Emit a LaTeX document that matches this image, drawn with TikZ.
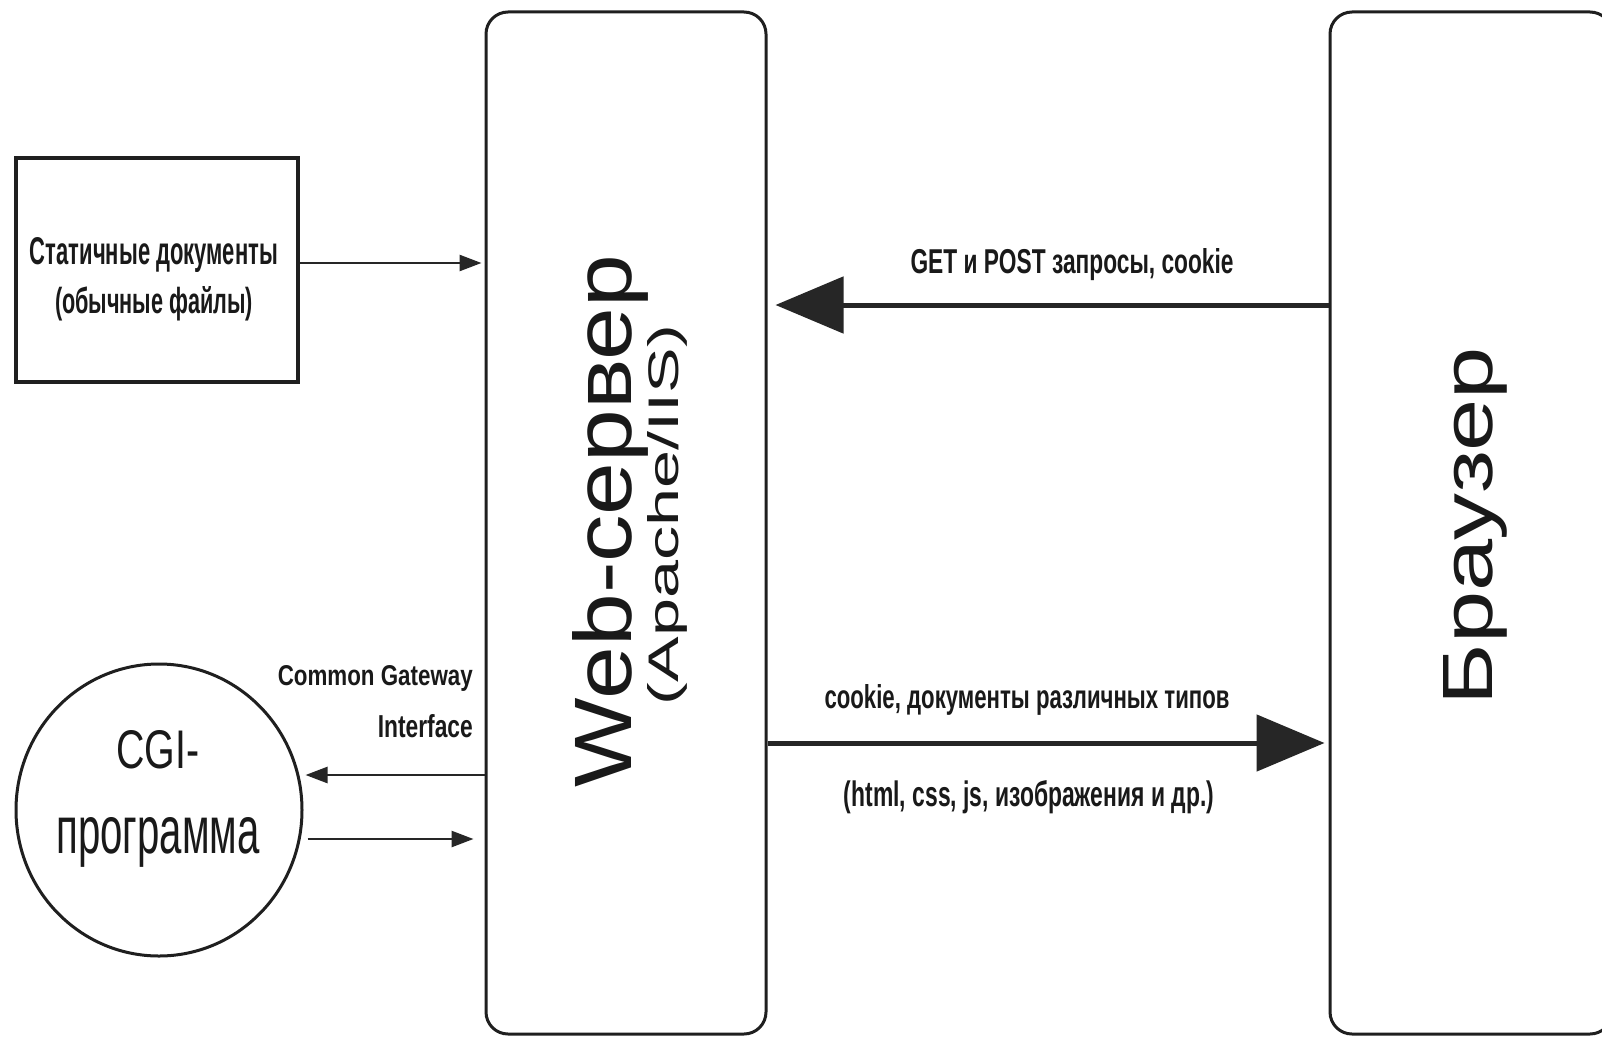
\documentclass[tikz,border=0pt]{standalone}
\usepackage{fontspec}
\setmainfont{Liberation Sans}
\usetikzlibrary{arrows.meta,shapes.geometric}
\newcommand{\fitt}[3]{\resizebox{#1pt}{#2pt}{#3}}
\begin{document}
\begin{tikzpicture}[x=1pt,y=-1pt,
  box/.style={draw=black!88, line width=3pt, inner sep=0pt},
  rbox/.style={box, rounded corners=22pt, minimum width=280pt, minimum height=1022pt},
  lab/.style={inner sep=0pt, anchor=base, text=black!90},
  arrthin/.style={draw=black!85, line width=2.6pt, -{Triangle[length=22pt,width=16pt]}},
  arrthick/.style={draw=black!85, line width=5pt, -{Triangle[length=68pt,width=56pt]}}]
\useasboundingbox (0,0) rectangle (1602,1038);
\clip (0,0) rectangle (1602,1038);
\fill[white] (0,0) rectangle (1602,1038);
% main shapes
\node[rbox] (web) at (626,523) {};
\node[rbox, minimum width=282pt] (browser) at (1471,523) {};
\node[box, line width=4.5pt, minimum width=282pt, minimum height=224pt] (static) at (157,270) {};
\node[box, ellipse, minimum width=286pt, minimum height=292pt] (cgi) at (159,810) {};
% labels
\node[lab] (t1) at (154,264) {\fitt{248}{27}{\bfseries Статичные документы}};
\node[lab] (t2) at (154,313) {\fitt{198}{27}{\bfseries (обычные файлы)}};
\node[lab] (t3) at (158,768) {\fitt{83}{38}{CGI-}};
\node[lab] (t4) at (158,853) {\fitt{203}{36}{программа}};
\node[lab, anchor=base east] (t5) at (473,685) {\fitt{195}{20}{\bfseries Common Gateway}};
\node[lab, anchor=base east] (t6) at (473,737) {\fitt{95}{23}{\bfseries Interface}};
\node[lab] (t7) at (1072,273) {\fitt{323}{25}{\bfseries GET и POST запросы, cookie}};
\node[lab] (t8) at (1027,708) {\fitt{405}{24}{\bfseries cookie, документы различных типов}};
\node[lab] (t9) at (1029,806) {\fitt{370}{26}{\bfseries (html, css, js, изображения и др.)}};
\node[lab, rotate=90] (t10) at (631,521) {\fitt{532}{59}{Web-сервер}};
\node[lab, rotate=90] (t11) at (678,515) {\fitt{380}{31}{(Apache/IIS)}};
\node[lab, rotate=90] (t12) at (1492,526) {\fitt{358}{49}{Браузер}};
% connectors
\coordinate (ys) at (0,263);
\coordinate (yg) at (0,305);
\coordinate (yc) at (0,743);
\coordinate (yl) at (0,775);
\coordinate (yr) at (0,839);
\draw[arrthin, shorten >=3pt] (static.east |- ys) -- (web.west |- ys);
\draw[arrthick, shorten >=8pt] (browser.west |- yg) -- (web.east |- yg);
\draw[arrthick, shorten >=4pt] (web.east |- yc) -- (browser.west |- yc);
\draw[arrthin, shorten >=2pt] (web.west |- yl) -- (cgi.east |- yl);
\draw[arrthin, shorten <=4pt, shorten >=11pt] (cgi.east |- yr) -- (web.west |- yr);
\end{tikzpicture}
\end{document}
